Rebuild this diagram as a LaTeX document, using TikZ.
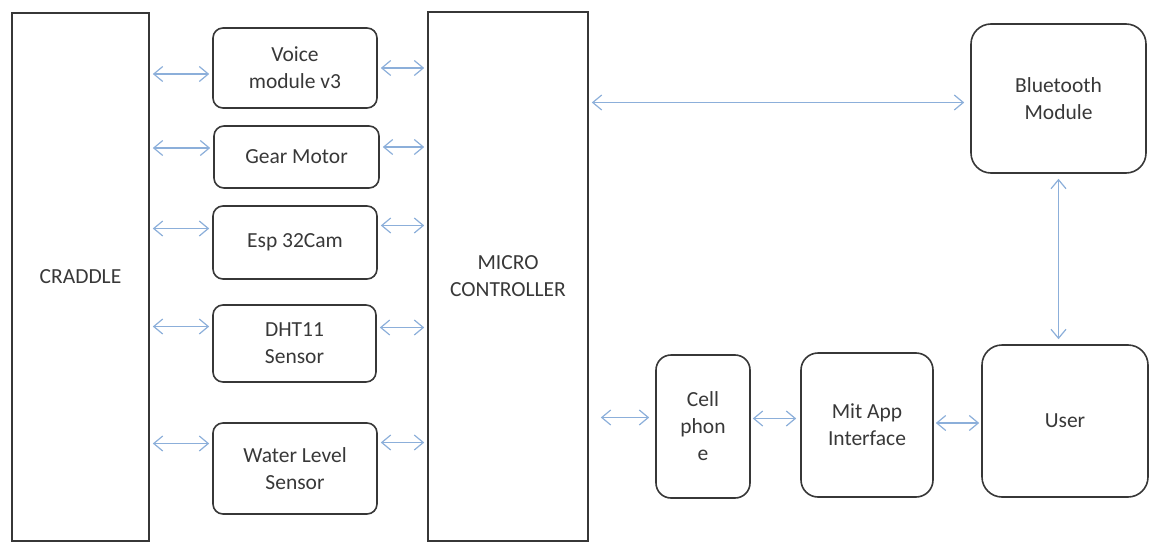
\documentclass[tikz,border=0pt]{standalone}
\usepackage{fontspec}
\setmainfont{Carlito}
\usetikzlibrary{arrows.meta,calc}
\definecolor{linkblue}{RGB}{140,175,218}
\definecolor{boxgray}{RGB}{55,55,55}
\tikzset{
  block/.style={draw=boxgray, line width=1.6pt, text=black!78, align=center,
    inner sep=0pt, font=\fontsize{21.5}{27}\selectfont},
  rblock/.style={block, rounded corners=10pt},
  link/.style={draw=linkblue, line width=1.2pt,
    {Straight Barb[length=9pt,width=15pt]}-{Straight Barb[length=9pt,width=15pt]},
    shorten <=3pt, shorten >=3pt},
}
\begin{document}
\begin{tikzpicture}[x=1pt,y=-1pt]
      \useasboundingbox (0,0) rectangle (1151,543);
      % main columns
      \node[block, minimum width=137pt, minimum height=528pt] (craddle) at (80.5,277) {CRADDLE};
      \node[block, minimum width=160pt, minimum height=529pt] (micro) at (508,276.5) {MICRO\\CONTROLLER};
      % modules between cradle and controller
      \node[rblock, minimum width=164pt, minimum height=80pt] (voice) at (295,68) {Voice\\module v3};
      \node[rblock, minimum width=165pt, minimum height=62pt] (gear) at (296.5,157) {Gear Motor};
      \node[rblock, minimum width=164pt, minimum height=73pt] (esp) at (295,242.5) {Esp 32Cam};
      \node[rblock, minimum width=163pt, minimum height=77pt] (dht) at (294.5,343.5) {DHT11\\Sensor};
      \node[rblock, minimum width=164pt, minimum height=91pt] (water) at (295,468.5) {Water Level\\Sensor};
      % right side
      \node[block, rounded corners=20pt, minimum width=175pt, minimum height=149pt] (bt) at (1058.5,98.5) {Bluetooth\\Module};
      \node[block, rounded corners=15pt, minimum width=94pt, minimum height=143pt] (cell) at (703,426.5) {Cell\\phon\\e};
      \node[block, rounded corners=17pt, minimum width=132pt, minimum height=144pt] (mit) at (867,425) {Mit App\\Interface};
      \node[block, rounded corners=20pt, minimum width=166pt, minimum height=152pt] (user) at (1065,421) {User};
      \begin{scope}
        \foreach \n/\dl/\dr in {voice/6/0, gear/-9/-10, esp/-14/-17, dht/-17/-16, water/-25/-26}{
          \draw[link] ($(craddle.east |- \n.west)+(0,\dl)$) to ($(\n.west)+(0,\dl)$);
          \draw[link] ($(\n.east)+(0,\dr)$) to ($(micro.west |- \n.east)+(0,\dr)$);
        }
        \draw[link, shorten >=6pt] ($(micro.east |- bt.west)+(0,4)$) to ($(bt.west)+(0,4)$);
        \draw[link, shorten <=12pt, shorten >=6pt] ($(micro.east |- cell.west)+(0,-9)$) to ($(cell.west)+(0,-9)$);
        \draw[link, shorten <=2pt, shorten >=4pt] ($(cell.east)+(0,-8)$) to ($(mit.west |- cell.east)+(0,-8)$);
        \draw[link, shorten <=2pt, shorten >=2pt] ($(mit.east)+(0,-2)$) to ($(user.west |- mit.east)+(0,-2)$);
        \draw[link, shorten <=5pt, shorten >=5pt] (bt.south) to (bt.south |- user.north);
      \end{scope}
    \end{tikzpicture}
\end{document}
